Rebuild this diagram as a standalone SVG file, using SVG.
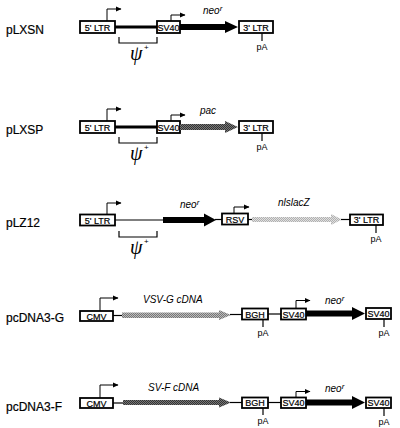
<svg xmlns="http://www.w3.org/2000/svg" width="400" height="428" viewBox="0 0 400 428">
<defs>
<marker id="ah" markerWidth="6" markerHeight="6" refX="5" refY="3" orient="auto" markerUnits="userSpaceOnUse">
<path d="M0,0.5 L5.5,3 L0,5.5 Z" fill="#000"/>
</marker>
<pattern id="dark" width="2" height="2" patternUnits="userSpaceOnUse">
<rect width="2" height="2" fill="#777"/>
<rect width="1" height="1" fill="#333"/>
<rect x="1" y="1" width="1" height="1" fill="#333"/>
</pattern>
<pattern id="mid" width="2" height="2" patternUnits="userSpaceOnUse">
<rect width="2" height="2" fill="#bbb"/>
<rect width="1" height="1" fill="#777"/>
<rect x="1" y="1" width="1" height="1" fill="#777"/>
</pattern>
<pattern id="light" width="2" height="2" patternUnits="userSpaceOnUse">
<rect width="2" height="2" fill="#e0e0e0"/>
<rect width="1" height="1" fill="#b0b0b0"/>
<rect x="1" y="1" width="1" height="1" fill="#b0b0b0"/>
</pattern>
</defs>
<style>
.box{fill:#fff;stroke:#000;stroke-width:1.8}
.bt{font-family:"Liberation Sans",Arial,sans-serif;font-size:9px;text-anchor:middle;fill:#000;stroke:#000;stroke-width:0.2}
.name{font-family:"Liberation Sans",Arial,sans-serif;font-size:12px;fill:#000;stroke:#000;stroke-width:0.2}
.gene{font-family:"Liberation Sans",Arial,sans-serif;font-size:10px;font-style:italic;fill:#000}
.pa{font-family:"Liberation Sans",Arial,sans-serif;font-size:9px;text-anchor:middle;fill:#000}
.ln{stroke:#000;stroke-width:1.2;fill:none}
.thick{stroke:#000;stroke-width:3;fill:none}
.prom{stroke:#000;stroke-width:1;fill:none;marker-end:url(#ah)}
.psi{font-family:"Liberation Serif","Times New Roman",serif;font-size:20px;font-style:italic;fill:#000}
.sup{font-family:"Liberation Sans",Arial,sans-serif;font-size:8px;fill:#000}
</style>

<!-- Row 1: pLXSN -->
<g id="pLXSN">
<text class="name" x="6" y="34">pLXSN</text>
<line class="thick" x1="115" y1="27" x2="157" y2="27"/>
<rect class="box" x="80" y="21" width="35" height="12"/>
<text class="bt" x="97.5" y="30.5">5' LTR</text>
<path class="prom" d="M107,21 V9 H121"/>
<rect class="box" x="157" y="21" width="23" height="12"/>
<text class="bt" x="168.5" y="30.5">SV40</text>
<path class="prom" d="M171,21 V15 H185"/>
<path d="M180,24 H225 V21 L238,27 L225,33 V30 H180 Z" fill="#000"/>
<text class="gene" x="203" y="14">neo<tspan class="sup" dy="-3" font-style="italic">r</tspan></text>
<rect class="box" x="239" y="21" width="34" height="12"/>
<text class="bt" x="256" y="30.5">3' LTR</text>
<line class="ln" x1="262" y1="33" x2="262" y2="41"/>
<text class="pa" x="262" y="50">pA</text>
<path class="ln" d="M119,37 V43 H157 V37"/>
<text class="psi" x="130" y="60">ψ</text>
<text class="sup" x="144" y="50">+</text>
</g>

<!-- Row 2: pLXSP -->
<g id="pLXSP">
<text class="name" x="6" y="134">pLXSP</text>
<line class="thick" x1="115" y1="127" x2="157" y2="127"/>
<rect class="box" x="80" y="121" width="35" height="12"/>
<text class="bt" x="97.5" y="130.5">5' LTR</text>
<path class="prom" d="M107,121 V109 H121"/>
<rect class="box" x="157" y="121" width="23" height="12"/>
<text class="bt" x="168.5" y="130.5">SV40</text>
<path class="prom" d="M171,121 V115 H185"/>
<path d="M180,124 H225 V121 L238,127 L225,133 V130 H180 Z" fill="url(#dark)"/>
<text class="gene" x="200" y="114">pac</text>
<rect class="box" x="239" y="121" width="34" height="12"/>
<text class="bt" x="256" y="130.5">3' LTR</text>
<line class="ln" x1="262" y1="133" x2="262" y2="141"/>
<text class="pa" x="262" y="150">pA</text>
<path class="ln" d="M119,137 V143 H157 V137"/>
<text class="psi" x="130" y="160">ψ</text>
<text class="sup" x="144" y="150">+</text>
</g>

<!-- Row 3: pLZ12 -->
<g id="pLZ12">
<text class="name" x="6" y="227">pLZ12</text>
<line class="ln" x1="115" y1="220" x2="163" y2="220"/>
<rect class="box" x="80" y="214.5" width="35" height="11"/>
<text class="bt" x="97.5" y="223.5">5' LTR</text>
<path class="prom" d="M107,214.5 V203 H121"/>
<path d="M163,217 H204 V213.5 L216,220 L204,226.5 V223 H163 Z" fill="#000"/>
<text class="gene" x="180" y="208">neo<tspan class="sup" dy="-3" font-style="italic">r</tspan></text>
<line class="ln" x1="215" y1="219.5" x2="222" y2="219.5"/>
<rect class="box" x="222" y="213.5" width="26" height="11"/>
<text class="bt" x="235" y="222.5">RSV</text>
<path class="prom" d="M234,213.5 V207 H249"/>
<line class="ln" x1="248" y1="219.5" x2="252" y2="219.5"/>
<path d="M252,217 H331 V214 L342,219.5 L331,225 V222 H252 Z" fill="url(#light)"/>
<text class="gene" x="278" y="206">nlslacZ</text>
<line class="ln" x1="341" y1="219.5" x2="350" y2="219.5"/>
<rect class="box" x="350" y="214.5" width="33" height="10.5"/>
<text class="bt" x="366.5" y="223">3' LTR</text>
<line class="ln" x1="376" y1="225" x2="376" y2="233"/>
<text class="pa" x="376" y="242">pA</text>
<path class="ln" d="M119,231 V237 H157 V231"/>
<text class="psi" x="130" y="254">ψ</text>
<text class="sup" x="144" y="244">+</text>
</g>

<!-- Row 4: pcDNA3-G -->
<g id="pcDNA3-G">
<text class="name" x="6" y="322">pcDNA3-G</text>
<rect class="box" x="80" y="311" width="33" height="10"/>
<text class="bt" x="96.5" y="319.5" font-size="8">CMV</text>
<path class="prom" d="M100,311 V298 H118"/>
<line class="ln" x1="113" y1="315.5" x2="122" y2="315.5"/>
<path d="M122,312.5 H219 V310 L231,315 L219,320 V318 H122 Z" fill="url(#mid)"/>
<text class="gene" x="143" y="303">VSV-G cDNA</text>
<line class="ln" x1="230" y1="314.5" x2="242" y2="314.5"/>
<rect class="box" x="242" y="308.5" width="26" height="11"/>
<text class="bt" x="255" y="317.5">BGH</text>
<line class="ln" x1="263" y1="319.5" x2="263" y2="327"/>
<text class="pa" x="263" y="336">pA</text>
<line class="ln" x1="268" y1="314" x2="281" y2="314"/>
<rect class="box" x="281" y="308.5" width="25" height="11"/>
<text class="bt" x="293.5" y="317.5">SV40</text>
<path class="prom" d="M296,308.5 V300.5 H310"/>
<path d="M306,310.5 H352 V307 L365,313.5 L352,320 V316.5 H306 Z" fill="#000"/>
<text class="gene" x="325" y="304">neo<tspan class="sup" dy="-3" font-style="italic">r</tspan></text>
<rect class="box" x="366" y="308" width="25" height="11"/>
<text class="bt" x="378.5" y="317">SV40</text>
<line class="ln" x1="384" y1="319" x2="384" y2="327"/>
<text class="pa" x="384" y="336">pA</text>
</g>

<!-- Row 5: pcDNA3-F -->
<g id="pcDNA3-F">
<text class="name" x="6" y="411">pcDNA3-F</text>
<rect class="box" x="80" y="398" width="33" height="10"/>
<text class="bt" x="96.5" y="406.5" font-size="8">CMV</text>
<path class="prom" d="M100,398 V385 H118"/>
<line class="ln" x1="113" y1="403" x2="123" y2="403"/>
<path d="M123,400 H219 V397.5 L231,402.5 L219,407.5 V405 H123 Z" fill="url(#dark)"/>
<text class="gene" x="148" y="391">SV-F cDNA</text>
<line class="ln" x1="230" y1="402.5" x2="242" y2="402.5"/>
<rect class="box" x="242" y="397.5" width="26" height="10.5"/>
<text class="bt" x="255" y="406">BGH</text>
<line class="ln" x1="263" y1="408" x2="263" y2="415"/>
<text class="pa" x="263" y="424">pA</text>
<line class="ln" x1="268" y1="402.5" x2="281" y2="402.5"/>
<rect class="box" x="281" y="397.5" width="25" height="10.5"/>
<text class="bt" x="293.5" y="406">SV40</text>
<path class="prom" d="M296,397.5 V391.5 H310"/>
<path d="M306,399.5 H352 V396 L365,402.5 L352,409 V405.5 H306 Z" fill="#000"/>
<text class="gene" x="325" y="392">neo<tspan class="sup" dy="-3" font-style="italic">r</tspan></text>
<rect class="box" x="366" y="397.5" width="25" height="10.5"/>
<text class="bt" x="378.5" y="406">SV40</text>
<line class="ln" x1="384" y1="408" x2="384" y2="416"/>
<text class="pa" x="384" y="425">pA</text>
</g>
</svg>
